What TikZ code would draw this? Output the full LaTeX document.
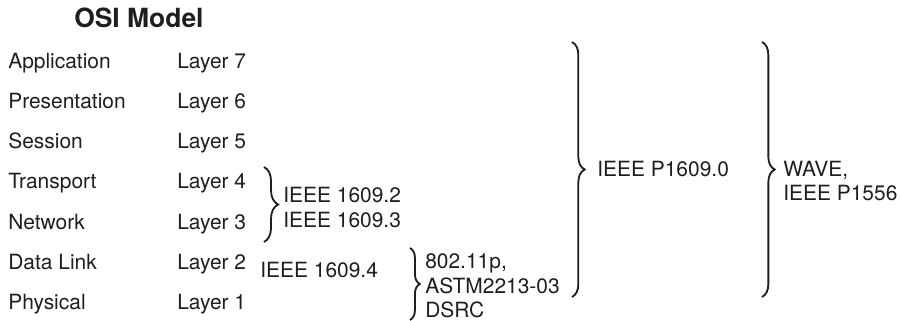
\documentclass[tikz,border=0pt]{standalone}
\usepackage{fontspec}
\setmainfont{TeX Gyre Heros}
\usepackage{tikz}
\usetikzlibrary{positioning, decorations.pathreplacing, calc}
\definecolor{TextGray}{RGB}{30, 30, 30}

\begin{document}
\begin{tikzpicture}[x=0.025cm, y=-0.025cm,
    lbl/.style={anchor=base west, inner sep=0pt, text=TextGray, font=\fontsize{14.9}{17}\selectfont},
    curly/.style={decorate, decoration={brace, amplitude=#1}, line width=1.3pt, TextGray}]
    \useasboundingbox (0, 0) rectangle (901, 321);

    % Title
    \node[lbl, font=\fontsize{18.8}{22}\selectfont\bfseries] (title) at (74, 28) {OSI Model};

    % Layers
    \node[lbl] (app)  at (8, 69)  {Application};
    \node[lbl] (pres) at (8, 109) {Presentation};
    \node[lbl] (sess) at (8, 149) {Session};
    \node[lbl] (trans) at (8, 189) {Transport};
    \node[lbl] (net)  at (8, 229) {Network};
    \node[lbl] (dl)   at (8, 269) {Data Link};
    \node[lbl] (phy)  at (8, 309) {Physical};
    \node[lbl] (l7) at (177, 69)  {Layer 7};
    \node[lbl] (l6) at (177, 109) {Layer 6};
    \node[lbl] (l5) at (177, 149) {Layer 5};
    \node[lbl] (l4) at (177, 189) {Layer 4};
    \node[lbl] (l3) at (177, 229) {Layer 3};
    \node[lbl] (l2) at (177, 269) {Layer 2};
    \node[lbl] (l1) at (177, 309) {Layer 1};

    % Braces
    \coordinate (tn top) at (264, 167);
    \coordinate (tn bot) at (264, 242);
    \coordinate (phy top) at (410, 248);
    \coordinate (phy bot) at (410, 320);
    \coordinate (all top) at (572, 42);
    \coordinate (all bot) at (572, 297);
    \coordinate (wave top) at (762, 42);
    \coordinate (wave bot) at (762, 297);
    \draw[curly=10pt] (tn top) -- (tn bot);
    \draw[curly=7pt] (phy top) -- (phy bot);
    \draw[curly=9pt] (all top) -- (all bot);
    \draw[curly=9pt] (wave top) -- (wave bot);

    % Standards
    \node[lbl] (ieee2) at (283, 203) {IEEE 1609.2};
    \node[lbl] (ieee3) at (283, 227) {IEEE 1609.3};
    \node[lbl] (ieee4) at (260, 277) {IEEE 1609.4};
    \node[lbl] (p80211) at (425, 268) {802.11p,};
    \node[lbl] (astm) at (425, 293) {ASTM2213-03};
    \node[lbl] (dsrc) at (425, 317) {DSRC};
    \node[lbl] (ieee0) at (597, 177) {IEEE P1609.0};
    \node[lbl] (wave) at (783, 177) {WAVE,};
    \node[lbl] (p1556) at (783, 200) {IEEE P1556};
  \end{tikzpicture}
\end{document}
